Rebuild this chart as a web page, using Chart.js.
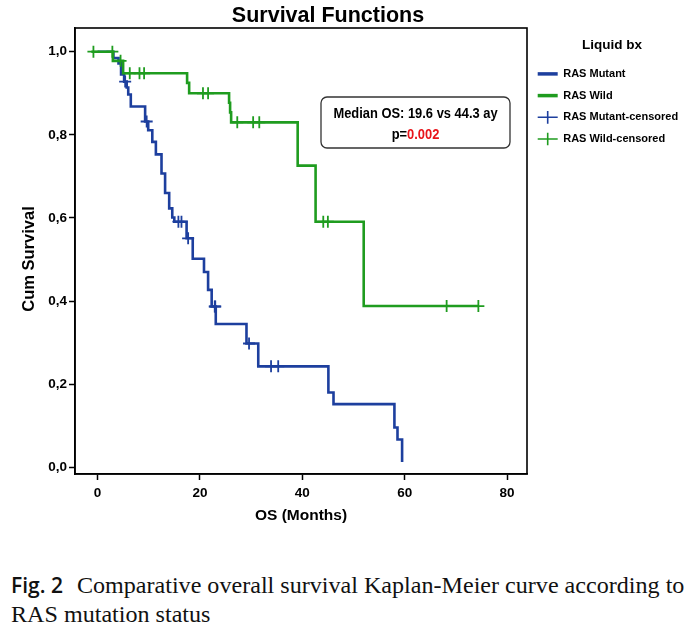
<!DOCTYPE html>
<html>
<head>
<meta charset="utf-8">
<script src="https://cdn.jsdelivr.net/npm/chart.js@4/dist/chart.umd.min.js"></script>
<style>
  body { margin:0; background:#fff; }
  #wrap { position:absolute; left:0; top:0; width:697px; height:540px; }
  #caption { position:absolute; left:11px; top:571px; white-space:nowrap; font-family:'Liberation Serif','Times New Roman',serif; font-size:24.1px; line-height:29px; color:#111; }
  #caption b { font-family:'Open Sans',sans-serif; font-weight:600; font-size:21px; margin-right:14px; }
</style>
</head>
<body>
<div id="wrap"><canvas id="km"></canvas></div>
<div id="caption"><b>Fig. 2</b>Comparative overall survival Kaplan-Meier curve according to<br>RAS mutation status</div>
<script>
// KM step points (time in months, cum survival after the event)
const mutantTime = [0, 3.1, 4.1, 4.6, 5.2, 5.7, 6.0, 6.5, 9.3, 9.9, 10.7, 11.4, 12.5, 13.2, 14.0, 14.6, 15.0, 17.4, 18.6, 20.8, 21.6, 22.3, 23.1, 29.1, 31.4, 45.1, 46.1, 58.0, 58.6, 59.5]
const mutantSurv = [1.0, 0.985, 0.972, 0.945, 0.928, 0.914, 0.897, 0.868, 0.832, 0.811, 0.783, 0.753, 0.707, 0.660, 0.623, 0.601, 0.591, 0.551, 0.502, 0.470, 0.427, 0.387, 0.345, 0.298, 0.243, 0.180, 0.152, 0.096, 0.067, 0.013]
const wildTime = [-1.2, 3.0, 5.0, 17.5, 17.9, 25.7, 25.9, 26.1, 39.1, 42.6, 52.0, 74.4]
const wildSurv = [1.0, 0.978, 0.948, 0.925, 0.900, 0.877, 0.854, 0.830, 0.726, 0.591, 0.388, 0.388]
// censored cases
const mutantCensTime = [5.4, 9.6, 15.8, 16.4, 17.7, 22.9, 23.0, 29.6, 33.9, 35.3]
const wildCensTime = [-0.8, 2.9, 4.5, 6.3, 8.2, 9.1, 20.6, 21.6, 27.3, 30.4, 31.6, 44.1, 45.0, 68.2, 74.4]

const xTicks = [0, 20, 40, 60, 80]
const yTicks = [0, 0.2, 0.4, 0.6, 0.8, 1.0]
const yTickLabels = ['0,0', '0,2', '0,4', '0,6', '0,8', '1,0']

const labels = ['RAS Mutant', 'RAS Wild', 'RAS Mutant-censored', 'RAS Wild-censored']
const legendStyles = ['line', 'line', 'cross', 'cross']
const blue = '#1d3f9e'
const green = '#1f9c1f'
const sans = "'Liberation Sans', Arial, sans-serif"

// survival level at time t
function levelAt(times, surv, t){
    let v = surv[0]
    for(let i=0; i<times.length; i++){
        if(times[i] <= t) v = surv[i]
    }
    return v
}
const pts = (xs, ys) => xs.map((x,i) => ({x:x, y:ys[i]}))

// text squeezed horizontally (the original uses a narrow face)
function narrowText(ctx, text, x, y, sx){
    ctx.save()
    ctx.translate(x, y)
    ctx.scale(sx, 1)
    ctx.fillText(text, 0, 0)
    ctx.restore()
}

const decor = {
    id: 'decor',
    beforeLayout(chart){
        // fixed legend column width so the plot box lands where the original is
        const lg = chart.legend
        if(lg && !lg._fixed){
            const fit = lg.fit.bind(lg)
            lg.fit = function(){ fit(); this.width = 170 }
            lg._fixed = true
        }
    },
    afterDraw(chart){
        const ctx = chart.ctx
        const a = chart.chartArea
        ctx.save()
        // plot frame
        ctx.strokeStyle = '#000'
        ctx.lineWidth = 1.6
        ctx.strokeRect(a.left, a.top, a.right - a.left, a.bottom - a.top)
        // title
        ctx.fillStyle = '#000'
        ctx.textAlign = 'center'
        ctx.textBaseline = 'alphabetic'
        ctx.font = `bold 21.5px ${sans}`
        ctx.fillText('Survival Functions', 328, 22)
        // y title
        ctx.save()
        ctx.translate(34, 259)
        ctx.rotate(-Math.PI/2)
        ctx.font = `bold 16.5px ${sans}`
        ctx.fillText('Cum Survival', 0, 0)
        ctx.restore()
        // median box
        const bx = 321, by = 97, bw = 189, bh = 51, r = 6
        ctx.beginPath()
        ctx.roundRect(bx, by, bw, bh, r)
        ctx.fillStyle = '#fff'
        ctx.fill()
        ctx.strokeStyle = '#333'
        ctx.lineWidth = 1.3
        ctx.stroke()
        const sx = 0.86
        const cx = bx + bw/2
        ctx.fillStyle = '#000'
        ctx.font = `bold 15px ${sans}`
        narrowText(ctx, 'Median OS: 19.6 vs 44.3 ay', cx, 117.5, sx)
        const p1 = 'p=', p2 = '0.002'
        const w1 = ctx.measureText(p1).width * sx, w2 = ctx.measureText(p2).width * sx
        const px = cx - (w1 + w2)/2
        ctx.textAlign = 'left'
        narrowText(ctx, p1, px, 138.5, sx)
        ctx.fillStyle = '#e8151b'
        narrowText(ctx, p2, px + w1, 138.5, sx)
        ctx.restore()
    }
}

const datasets = [
    {label: labels[0], data: pts(mutantTime, mutantSurv), borderColor: blue, backgroundColor: blue,
     borderWidth: 2.6, stepped: true, pointRadius: 0, fill: false, order: 1},
    {label: labels[1], data: pts(wildTime, wildSurv), borderColor: green, backgroundColor: green,
     borderWidth: 2.6, stepped: true, pointRadius: 0, fill: false, order: 0},
    {label: labels[2], data: mutantCensTime.map(t => ({x:t, y:levelAt(mutantTime, mutantSurv, t)})),
     borderColor: blue, backgroundColor: blue, showLine: false, pointStyle: 'cross',
     pointRadius: 6, pointBorderWidth: 1.8, order: 0},
    {label: labels[3], data: wildCensTime.map(t => ({x:t, y:levelAt(wildTime, wildSurv, t)})),
     borderColor: green, backgroundColor: green, showLine: false, pointStyle: 'cross',
     pointRadius: 6, pointBorderWidth: 1.8, order: 0},
]

new Chart(document.getElementById('km'), {
    type: 'line',
    data: {datasets: datasets},
    plugins: [decor],
    options: {
        responsive: true,
        maintainAspectRatio: false,
        animation: false,
        layout: {padding: {top: 28, left: 0, right: 0, bottom: 0}},
        plugins: {
            tooltip: {enabled: false},
            title: {display: false},
            legend: {
                position: 'right',
                align: 'start',
                title: {display: true, text: 'Liquid bx', color: '#000',
                        font: {family: sans, size: 13.5, weight: 'bold'}, padding: {top: 10.5, bottom: 3}},
                labels: {
                    usePointStyle: true, pointStyleWidth: 20, boxHeight: 9, padding: 10.7, color: '#000',
                    font: {family: sans, size: 11, weight: 'bold'},
                    sort: (a, b) => a.datasetIndex - b.datasetIndex,
                    generateLabels: chart => chart.data.datasets.map((ds, i) => ({
                        text: ds.label, fillStyle: ds.borderColor, strokeStyle: ds.borderColor,
                        lineWidth: legendStyles[i] == 'line' ? 3.5 : 1.6, pointStyle: legendStyles[i],
                        hidden: false, datasetIndex: i, fontColor: '#000'
                    }))
                }
            }
        },
        scales: {
            x: {
                type: 'linear', min: -4.4, max: 83.9,
                afterFit: s => { s.height = 66 },
                afterBuildTicks: s => { s.ticks = xTicks.map(v => ({value: v})) },
                grid: {drawOnChartArea: false, drawTicks: true, tickLength: 6, tickColor: '#000', tickWidth: 1.5},
                border: {display: true, color: '#000', width: 1.6},
                ticks: {color: '#000', padding: 5, font: {family: sans, size: 13.5, weight: 'bold'}, maxRotation: 0},
                title: {display: true, text: 'OS (Months)', color: '#000', padding: {top: 0, bottom: 15},
                        font: {family: sans, size: 15.5, weight: 'bold'}}
            },
            y: {
                type: 'linear', min: -0.016, max: 1.057,
                afterFit: s => { s.width = 75 },
                afterBuildTicks: s => { s.ticks = yTicks.map(v => ({value: v})) },
                grid: {drawOnChartArea: false, drawTicks: true, tickLength: 6, tickColor: '#000', tickWidth: 1.5},
                border: {display: true, color: '#000', width: 1.6},
                ticks: {color: '#000', padding: 2, font: {family: sans, size: 13.5, weight: 'bold'},
                        callback: (v) => yTickLabels[yTicks.indexOf(v)]}
            }
        }
    }
})
</script>
</body>
</html>
